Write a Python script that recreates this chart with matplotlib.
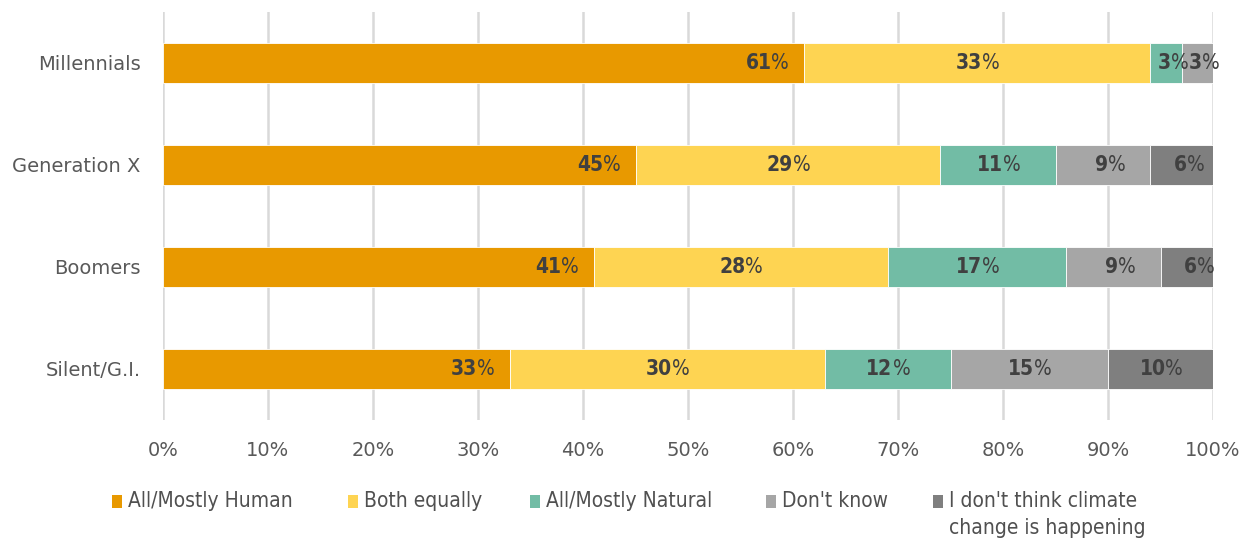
import numpy as np
import matplotlib.pyplot as plt
from matplotlib.patches import Rectangle

# generations, top to bottom
groups = ['Millennials', 'Generation X', 'Boomers', 'Silent/G.I.']
series = ['All/Mostly Human', 'Both equally', 'All/Mostly Natural', "Don't know",
          "I don't think climate\nchange is happening"]
human = [61, 45, 41, 33]
both = [33, 29, 28, 30]
natural = [3, 11, 17, 12]
dont_know = [3, 9, 9, 15]
not_happening = [0.3, 6, 6, 10]
colors = ['#E89900', '#FED452', '#72BCA5', '#A6A6A6', '#7F7F7F']
ticks = np.arange(0, 101, 10)

narrow = ['Liberation Sans Narrow', 'DejaVu Sans']
W, H = 1250.0, 539.0

fig = plt.figure(figsize=(12.5, 5.39), dpi=100)
ax = fig.add_axes([0.1304, 0.2208, 0.84, 0.757])

y = np.arange(len(groups))
data = [human, both, natural, dont_know, not_happening]
left = np.zeros(len(groups))
lab = dict(va='center', color='#404040', family=narrow, stretch='condensed',
           fontsize=15, zorder=4, textcoords='offset pixels')
for i, vals in enumerate(data):
    vals = np.array(vals, dtype=float)
    ax.barh(y, vals, left=left, height=0.39, color=colors[i], edgecolor='white',
            linewidth=0.6, zorder=3)
    for j in range(len(groups)):
        if vals[j] < 1:
            continue
        if i == 0:
            # inside end
            xe = left[j] + vals[j]
            ax.annotate('%', (xe, y[j]), xytext=(-32, 0), ha='left', **lab)
            ax.annotate('%d' % vals[j], (xe, y[j]), xytext=(-32, 0), ha='right',
                        fontweight='bold', **lab)
        else:
            xc = left[j] + vals[j] / 2
            ax.annotate('%', (xc, y[j]), xytext=(5, 0), ha='left', **lab)
            ax.annotate('%d' % vals[j], (xc, y[j]), xytext=(5, 0), ha='right',
                        fontweight='bold', **lab)
    left += vals

ax.set_xlim(0, 100)
ax.set_ylim(len(groups) - 0.5, -0.5)
ax.set_xticks(ticks)
ax.set_xticklabels(['%d%%' % t for t in ticks])
ax.set_yticks(y)
ax.set_yticklabels(groups)
ax.tick_params(axis='both', length=0, labelsize=14, colors='#595959')
ax.tick_params(axis='x', pad=15)
ax.tick_params(axis='y', pad=16)
ax.xaxis.grid(True, color='#D9D9D9', linewidth=1.8, zorder=0)
ax.set_axisbelow(True)
for s in ax.spines.values():
    s.set_visible(False)

# legend drawn by hand so the two-line entry hangs below the row
leg_x = [112, 348, 530, 766, 933]
leg_y = 501
for c, name, lx in zip(colors, series, leg_x):
    fig.patches.append(Rectangle((lx / W, (H - leg_y - 6.5) / H), 10 / W, 13 / H,
                                 transform=fig.transFigure, facecolor=c,
                                 edgecolor='none'))
    fig.text((lx + 16) / W, (H - leg_y + 10) / H, name, ha='left', va='top',
             fontsize=15, family=narrow, stretch='condensed', color='#505050',
             linespacing=1.45)

fig.savefig('out.png', dpi=100)
